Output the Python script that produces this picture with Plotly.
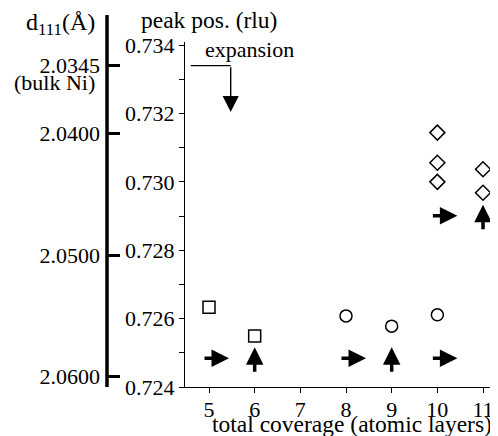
import plotly.graph_objects as go

# ---- data ----
square_x = [5, 6]
square_y = [0.72633, 0.72549]
circle_x = [8, 9, 10]
circle_y = [0.72608, 0.72578, 0.72611]
diamond_x = [10, 10, 10, 11, 11]
diamond_y = [0.73144, 0.73056, 0.73000, 0.73037, 0.72968]
arrow_x = [5, 6, 8, 9, 10, 10, 11]
arrow_y = [0.72484, 0.72484, 0.72484, 0.72484, 0.72484, 0.72901, 0.72901]
arrow_dir = ["right", "up", "right", "up", "right", "right", "up"]

x_ticks = [5, 6, 7, 8, 9, 10, 11]
peak_ticks = [0.724, 0.725, 0.726, 0.727, 0.728, 0.729, 0.730, 0.731, 0.732, 0.733, 0.734]
d_ticks = [2.0345, 2.0400, 2.0500, 2.0600]
d_labels = ["2.0345", "2.0400", "2.0500", "2.0600"]
K = 1.4921  # d111 (Å) = K / peak position (rlu)
bulk_ni_d = 2.0345
expansion_arrow_tip = 0.73204

FONT = "Liberation Serif, Times New Roman, Times, DejaVu Serif, serif"
FS = 22

fig = go.Figure()
mk = dict(color="black", line=dict(color="black", width=1.5))
fig.add_trace(go.Scatter(x=square_x, y=square_y, mode="markers",
                         marker=dict(symbol="square-open", size=12, **mk)))
fig.add_trace(go.Scatter(x=circle_x, y=circle_y, mode="markers",
                         marker=dict(symbol="circle-open", size=12, **mk)))
fig.add_trace(go.Scatter(x=diamond_x, y=diamond_y, mode="markers",
                         marker=dict(symbol="diamond-open", size=11.5, **mk)))

# horizontal part of the "expansion" indicator at bulk Ni level (on the d-axis)
y_bulk = K / bulk_ni_d
fig.add_trace(go.Scatter(x=[4.6, 5.475], y=[y_bulk, y_bulk], mode="lines",
                         line=dict(color="black", width=1.3), yaxis="y2"))

annotations = []
for x, y, d in zip(arrow_x, arrow_y, arrow_dir):
    if d == "right":
        annotations.append(dict(x=x, y=y, xref="x", yref="y", text="", showarrow=True,
                                xshift=20, ax=-26, ay=0, arrowhead=2, arrowsize=1.0,
                                arrowwidth=3.5, arrowcolor="black"))
    else:
        annotations.append(dict(x=x, y=y, xref="x", yref="y", text="", showarrow=True,
                                yshift=11, ax=0, ay=26, arrowhead=2, arrowsize=1.0,
                                arrowwidth=3.5, arrowcolor="black"))

# expansion arrow (vertical part)
annotations.append(dict(x=5.475, y=expansion_arrow_tip, xref="x", yref="y", text="",
                        showarrow=True, axref="x", ayref="y", ax=5.475, ay=y_bulk,
                        arrowhead=2, arrowsize=2.3, arrowwidth=1.4, arrowcolor="black"))

tf = dict(family=FONT, size=FS, color="black")
tf_big = dict(family=FONT, size=24, color="black")
annotations += [
    dict(text="expansion", x=0.2595, y=0.9797, xref="paper", yref="paper",
         xanchor="left", yanchor="middle", showarrow=False, font=tf),
    dict(text="peak pos. (rlu)", x=0.2731, y=1.0638, xref="paper", yref="paper",
         xanchor="center", yanchor="middle", showarrow=False,
         font=dict(family=FONT, size=23.5, color="black")),
    dict(text="d<sub>111</sub>(Å)", x=-0.0075, y=1.052, xref="paper", yref="paper",
         xanchor="right", yanchor="middle", showarrow=False, font=tf_big),
    dict(text="(bulk Ni)", x=-0.0075, y=0.884, xref="paper", yref="paper",
         xanchor="right", yanchor="middle", showarrow=False, font=tf),
    dict(text="total coverage (atomic layers)", x=0.6332, y=-0.1065, xref="paper",
         yref="paper", xanchor="center", yanchor="middle", showarrow=False,
         font=dict(family=FONT, size=23.5, color="black")),
]

peak_text = [("%.3f" % v) if i % 2 == 0 else "" for i, v in enumerate(peak_ticks)]
yrange = [0.724, 0.73409]

# the page adds an 8px body margin, so the figure is 8px smaller on each side
fig.update_layout(
    width=490, height=428,
    margin=dict(l=92, r=0, t=34, b=49, autoexpand=False),
    paper_bgcolor="white", plot_bgcolor="white",
    showlegend=False,
    font=tf,
    xaxis=dict(domain=[85 / 398, 1], range=[4.4745, 11.328], tickvals=x_ticks,
               ticks="outside", ticklen=5, tickwidth=1.3, tickcolor="black",
               showline=True, linecolor="black", linewidth=1.3,
               showgrid=False, zeroline=False, tickfont=tf, ticklabelstandoff=-3),
    yaxis=dict(range=yrange, tickvals=peak_ticks, ticktext=peak_text,
               ticks="outside", ticklen=5, tickwidth=1.3, tickcolor="black",
               showline=True, linecolor="black", linewidth=1.3,
               showgrid=False, zeroline=False, tickfont=tf, ticklabelstandoff=0),
    yaxis2=dict(range=yrange, overlaying="y", anchor="free", position=7 / 398,
                side="left", tickvals=[K / d for d in d_ticks], ticktext=d_labels,
                ticks="inside", ticklen=12, tickwidth=3, tickcolor="black",
                showline=False, showgrid=False, zeroline=False, tickfont=tf,
                ticklabelstandoff=7),
    shapes=[dict(type="line", xref="paper", yref="paper", x0=7 / 398, x1=7 / 398,
                 y0=0, y1=1.0783, line=dict(color="black", width=3.5))],
    annotations=annotations,
)

fig.write_html("out.html")
